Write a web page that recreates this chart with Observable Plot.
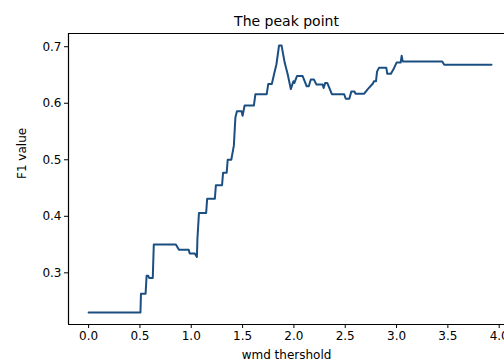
<!DOCTYPE html>
<html><head><meta charset="utf-8">
<script src="https://cdn.jsdelivr.net/npm/d3@7"></script>
<script src="https://cdn.jsdelivr.net/npm/@observablehq/plot@0.6"></script>
<style>body{margin:0;background:#fff;overflow:hidden} svg{overflow:hidden}</style>
</head><body><div id="chart"></div>
<script>
const thresholds = [0.0,0.505,0.51,0.555,0.565,0.58,0.59,0.625,0.635,0.85,0.88,0.975,0.985,1.035,1.055,1.06,1.075,1.145,1.155,1.23,1.24,1.30,1.31,1.345,1.355,1.39,1.40,1.415,1.43,1.445,1.49,1.50,1.52,1.61,1.625,1.735,1.75,1.785,1.81,1.83,1.855,1.88,1.91,1.94,1.97,1.995,2.005,2.03,2.085,2.125,2.145,2.165,2.195,2.22,2.28,2.29,2.305,2.325,2.37,2.49,2.505,2.54,2.56,2.59,2.60,2.685,2.72,2.77,2.78,2.80,2.81,2.83,2.90,2.91,2.945,2.97,3.00,3.04,3.05,3.06,3.445,3.465,3.925];
const f1Values = [0.230,0.230,0.263,0.263,0.295,0.295,0.291,0.291,0.350,0.350,0.341,0.341,0.334,0.334,0.328,0.360,0.406,0.406,0.431,0.431,0.455,0.455,0.477,0.477,0.500,0.500,0.510,0.525,0.575,0.586,0.586,0.578,0.596,0.596,0.616,0.616,0.634,0.634,0.654,0.669,0.702,0.702,0.672,0.651,0.625,0.639,0.636,0.648,0.648,0.630,0.630,0.642,0.642,0.633,0.633,0.627,0.636,0.636,0.616,0.616,0.608,0.608,0.621,0.621,0.617,0.617,0.625,0.635,0.639,0.639,0.656,0.663,0.663,0.652,0.652,0.660,0.672,0.672,0.684,0.674,0.674,0.668,0.668];
const xTicks = [0,0.5,1,1.5,2,2.5,3,3.5,4];
const yTicks = [0.3,0.4,0.5,0.6,0.7];
const titleText = "The peak point";
const xLabel = "wmd thershold";
const yLabel = "F1 value";

const data = thresholds.map((t, i) => ({t, f: f1Values[i]}));
const xDomain = [-0.196, 4.12];
const yDomain = [0.2086, 0.7234];

const chart = Plot.plot({
  width: 504, height: 364,
  marginLeft: 68, marginTop: 33, marginBottom: 40, marginRight: 0,
  style: {fontFamily: "DejaVu Sans", fontSize: "12px", color: "#000", background: "#fff", overflow: "hidden"},
  x: {domain: xDomain, range: [68, 511], ticks: xTicks, tickFormat: d3.format(".1f"), tickSize: 4, tickPadding: 3, label: null},
  y: {domain: yDomain, ticks: yTicks, tickFormat: d3.format(".1f"), tickSize: 4, tickPadding: 3, label: null},
  marks: [
    Plot.ruleX([xDomain[0]], {stroke: "#000", strokeWidth: 1.2}),
    Plot.ruleY([yDomain[0], yDomain[1]], {stroke: "#000", strokeWidth: 1.2}),
    Plot.line(data, {x: "t", y: "f", stroke: "#1b4f82", strokeWidth: 2}),
    Plot.text([titleText], {frameAnchor: "top", dy: -17, fontSize: 14, fill: "#000"}),
    Plot.text([xLabel], {frameAnchor: "bottom", dy: 34, fontSize: 12, fill: "#000"}),
    Plot.text([yLabel], {frameAnchor: "left", dx: -46, rotate: -90, fontSize: 12, fill: "#000"})
  ]
});
document.getElementById("chart").appendChild(chart);
</script>
</body></html>
